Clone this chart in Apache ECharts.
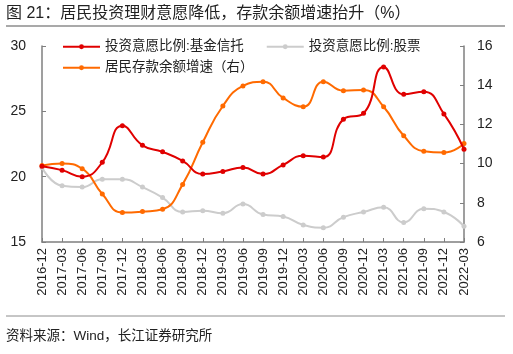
<!DOCTYPE html>
<html>
<head>
<meta charset="utf-8">
<script src="https://cdn.jsdelivr.net/npm/echarts@6/dist/echarts.min.js"></script>
<style>
html, body { margin: 0; padding: 0; background: #fff; }
#main { width: 513px; height: 354px; }
</style>
</head>
<body>
<div id="main"></div>
<script>
var categories = ['2016-12', '2017-03', '2017-06', '2017-09', '2017-12', '2018-03', '2018-06', '2018-09',
    '2018-12', '2019-03', '2019-06', '2019-09', '2019-12', '2020-03', '2020-06', '2020-09',
    '2020-12', '2021-03', '2021-06', '2021-09', '2021-12', '2022-03'];

// 投资意愿比例:基金信托 (左轴)
var fundTrust = [20.8, 20.5, 20.0, 21.1, 23.9, 22.4, 21.9, 21.2, 20.2, 20.4, 20.7, 20.2,
    20.9, 21.6, 21.5, 24.4, 24.85, 28.4, 26.3, 26.5, 24.8, 22.1];

// 投资意愿比例:股票 (左轴)
var stocks = [20.7, 19.3, 19.2, 19.8, 19.8, 19.2, 18.4, 17.3, 17.4, 17.2, 17.9, 17.1,
    16.95, 16.3, 16.1, 16.9, 17.3, 17.65, 16.5, 17.55, 17.3, 16.2];

// 居民存款余额增速 (右轴)
var depositGrowth = [9.9, 10.0, 9.74, 8.45, 7.5, 7.55, 7.67, 8.94, 11.09, 12.94, 13.96, 14.18,
    13.35, 12.9, 14.18, 13.72, 13.76, 12.9, 11.42, 10.63, 10.56, 11.02];

var font = '"Liberation Sans", Arial, "Noto Sans CJK SC", sans-serif';
var axisColor = '#7f7f7f';

var myChart = echarts.init(document.getElementById('main'));

var legendText = { fontSize: 13.5, color: '#222', fontFamily: font };

var option = {
    animation: false,
    textStyle: { fontFamily: font },
    grid: { left: 42, right: 49, top: 46, bottom: 112 },
    legend: [{
        left: 57, top: 35, itemWidth: 37, itemHeight: 6, itemGap: 22,
        textStyle: legendText,
        data: ['投资意愿比例:基金信托', '投资意愿比例:股票']
    }, {
        left: 57, top: 56, itemWidth: 37, itemHeight: 6,
        textStyle: legendText,
        data: ['居民存款余额增速（右）']
    }],
    xAxis: {
        type: 'category',
        data: categories,
        boundaryGap: false,
        axisLine: { lineStyle: { color: axisColor, width: 1.5 } },
        axisTick: { inside: true, length: 4, lineStyle: { color: axisColor } },
        axisLabel: { rotate: 90, fontSize: 13, color: '#222', margin: 6, interval: 0 }
    },
    yAxis: [{
        type: 'value', min: 15, max: 30, interval: 5,
        splitLine: { show: false },
        axisLine: { show: true, lineStyle: { color: axisColor, width: 1.5 } },
        axisTick: { show: true, inside: true, length: 4, lineStyle: { color: axisColor } },
        axisLabel: { fontSize: 14, color: '#222', margin: 16 }
    }, {
        type: 'value', min: 6, max: 16, interval: 2,
        splitLine: { show: false },
        axisLine: { show: true, lineStyle: { color: axisColor, width: 1.5 } },
        axisTick: { show: true, inside: true, length: 4, lineStyle: { color: axisColor } },
        axisLabel: { fontSize: 14, color: '#222', margin: 13 }
    }],
    series: [{
        name: '投资意愿比例:基金信托',
        type: 'line', smooth: true, yAxisIndex: 0, z: 3,
        symbol: 'circle', symbolSize: 5,
        itemStyle: { color: '#e00000' },
        lineStyle: { width: 2, color: '#e00000' },
        data: fundTrust
    }, {
        name: '投资意愿比例:股票',
        type: 'line', smooth: true, yAxisIndex: 0, z: 1,
        symbol: 'circle', symbolSize: 5,
        itemStyle: { color: '#cccccc' },
        lineStyle: { width: 2, color: '#cccccc' },
        data: stocks
    }, {
        name: '居民存款余额增速（右）',
        type: 'line', smooth: true, yAxisIndex: 1, z: 2,
        symbol: 'circle', symbolSize: 5,
        itemStyle: { color: '#ff6a00' },
        lineStyle: { width: 2, color: '#ff6a00' },
        data: depositGrowth
    }],
    graphic: [{
        type: 'text', left: 6, top: 6,
        style: { text: '图 21：居民投资理财意愿降低，存款余额增速抬升（%）', font: '16px ' + font, fill: '#222' }
    }, {
        type: 'line', shape: { x1: 6, y1: 26, x2: 505, y2: 26 },
        style: { stroke: '#8c8c8c', lineWidth: 1.5 }
    }, {
        type: 'line', shape: { x1: 6, y1: 316, x2: 505, y2: 316 },
        style: { stroke: '#8c8c8c', lineWidth: 1 }
    }, {
        type: 'text', left: 6, top: 330,
        style: { text: '资料来源：Wind，长江证券研究所', font: '13.5px ' + font, fill: '#222' }
    }]
};

myChart.setOption(option);
</script>
</body>
</html>
